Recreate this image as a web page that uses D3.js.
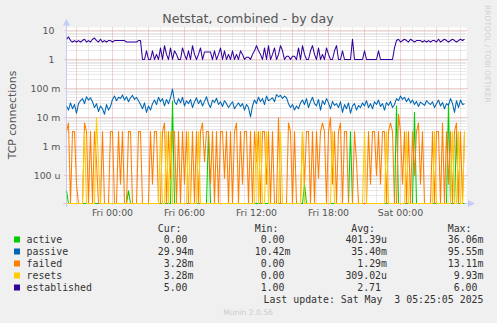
<!DOCTYPE html>
<html>
<head>
<meta charset="utf-8">
<script src="https://cdn.jsdelivr.net/npm/d3@7"></script>
<style>
  html, body { margin: 0; padding: 0; background: #f0f0f0; }
  svg { display: block; }
  text { white-space: pre; }
</style>
</head>
<body>
<svg id="chart" width="497" height="323"></svg>
<script>
// ---- series definitions (legend order = drawing order) ----
const seriesNames  = ["active", "passive", "failed", "resets", "established"];
const seriesColors = ["#00cc00", "#0066b3", "#ff8000", "#ffcc00", "#330099"];

// samples every 10 minutes, Thu 20:10 .. Sat 05:20 (UTC)
const sampleStart = Date.UTC(2025, 4, 1, 20, 10);
const sampleStepMinutes = 10;

// connections per second, in milli-units
const activeMilli = [
  0.03,0,0,0,0,0,0,0,0,0,
  0,0,0,0,0,0,0,0,0,0,
  0,0,0,0,0,0,0,0,0,0,
  0,0.03,0,0,0,0,0,0,0,0,
  0,0,0,0,0,0,0,0,0,0,
  0,0,0,36.06,0,0,0,0,0,0,
  0,0,0,0,0,0,0,0,0,0,
  0,3.28,0,0,0,0,0,0,0,0,
  0,0,0,0,0,0,0,0,0,0,
  0,0,0,0,0,0,0,0,0,0,
  0,0,0,0,0,0,0,0,0,0,
  0,0,0,0,0,0,0,0,0,0.05,
  0,0,0,0,0,0,0,0,0,0,
  0,0,0,0,0,0,0,0,0,0,
  0,0,3.28,0,0,0,0,0,0,0,
  0,0,0,0,0,0,0,0,0,0,
  0,0,0,0,0,25,0,0,0,0,
  0,0,0,0,15,0,0,0,0,0,
  0,0,0,0,0,0,0,0,0,0,
  0,30,0,0,0,3.28,0,0,0,0
];

const passiveMilli = [
  25,18,32,20,28,14,30,38,45,30,
  52,40,48,35,22,30,16,25,20,13,
  28,18,24,42,55,38,50,45,60,40,
  52,35,48,58,42,50,38,28,20,32,
  15,25,18,30,40,28,50,35,45,25,
  42,30,48,95.55,35,28,45,32,50,25,
  38,30,42,22,35,48,30,40,25,36,
  52,30,22,40,33,46,28,35,24,38,
  30,22,28,35,20,26,32,24,30,18,
  28,22,10.42,25,40,30,50,35,45,28,
  55,38,42,48,35,62,52,58,45,55,
  48,30,22,28,18,25,20,32,40,28,
  45,22,35,50,30,25,42,18,38,28,
  45,32,20,36,26,30,22,35,15,28,
  20,32,14,25,30,18,26,22,32,25,
  38,22,30,20,35,28,40,24,30,18,
  33,26,36,22,28,45,38,55,42,50,
  35,46,32,40,28,36,24,34,30,26,
  38,32,28,35,22,30,40,25,33,20,
  30,26,45,30,15,38,22,40,28,29.94
];

const failedMilli = [
  3.28,6.5,0,3.28,3.28,0.05,0,0,0,6.5,
  3.28,0,3.28,0,3.28,0.3,0,0,3.28,0,
  0,0,3.28,3.28,0,0,3.28,0.05,3.28,0,
  0,3.28,3.28,0,0,0,3.28,3.28,0,0,
  0,0,3.28,0.05,3.28,3.28,0,0,3.28,6.5,
  0,3.28,0.08,3.28,3.28,0,3.28,0,3.28,0.05,
  3.28,0,0,3.28,0,3.28,0,3.28,6.5,0.3,
  3.28,3.28,0.05,3.28,0,3.28,0,3.28,3.28,0.08,
  3.28,0,3.28,0,3.28,6.5,0,3.28,0.05,3.28,
  3.28,0,3.28,0,3.28,0.3,3.28,0,3.28,3.28,
  0.05,3.28,0,3.28,0,0,10,0,0,0,
  0,6.5,3.28,0,3.28,0,0,0,3.28,0.05,
  3.28,3.28,0,3.28,0,3.28,0.08,3.28,6.5,3.28,
  0,3.28,9.9,0.05,3.28,0,3.28,6.5,0,3.28,
  3.28,0,0,0,3.28,0.3,0,0,0,0,
  0,3.28,0.05,3.28,3.28,0.1,3.28,0.05,3.28,3.28,
  0,3.28,6.5,3.28,0,0,13.11,3.28,0.05,3.28,
  0,3.28,0,3.28,0.1,3.28,6.5,0.05,3.28,0,
  0,0,0,3.28,0,3.28,3.28,0,6.5,0,
  3.28,0.05,3.28,0,3.28,6.5,0,3.28,0,3.28
];

const resetsMilli = [
  0,0,0,0,0,0,0,0,0,3.28,
  0,0,0,0,0,9.93,0.3,0,0,0,
  0,0,0,0,0,0,0,0,0,0,
  0,0,0,0,0,0,0,0,0,0,
  0,0,0,0,0,0,0,3.28,0,0,
  3.28,0,3.28,0,0,0,0,0,0,0,
  0,3.28,0,0,0,0,3.28,0,0,0,
  0,0,0,0,0,0,0,0,0,0,
  0,0,0,0,0,0,0,0,0,0,
  0,0,0,0,0,3.28,0,3.28,0,0,
  3.28,0,0,0,0,0,0,3.28,0,0,
  0,0,0,0,0,0,0,0,3.28,0,
  0,0,0,0,0,0,0,0,0,0,
  0,0,0,3.28,0,0,0,0,0,0,
  0,0,0,0,0,0,0,0,0,3.28,
  0,0,0,0,0,0,0,0,0,0,
  3.28,0,0,0,0,0,0,0,0,0,
  3.28,0,0,0,0,0,0,0,0,0,
  0,0,0,0,3.28,0,0,0,0,0,
  0,0,0,3.28,0,0,3.28,0,0,3.28
];

// established connections (plain units)
const established = [
  5,6,4.5,4,4.5,4,4.5,4,4.5,5,
  4,4.5,4,5,5.5,4.5,4,5,4,4.5,
  4,4.5,4.5,4,4.5,4.5,4.5,4.5,4.5,4.5,
  4,4,4,4,4,4,4.5,4.5,1,1,
  2,1,1,2,1,1.5,1,2.5,1,3,
  1.5,1,2.5,1,2,1.5,1,1,2.5,1.5,
  1,2,1,3,1.5,1,1.5,2.5,1,1.8,
  1.8,1.8,1.8,1,2,1,1.5,2.5,1,2,
  1,1.5,1,2,1,1.5,1,2,1.5,1,
  1.2,1.2,1,1.5,2,3,2,1.5,1,2.5,
  1,3,1,1.5,2.5,1,1.5,3,2,1,
  1.3,1.3,1,1.3,1.3,1,2.5,1,3,1.5,
  1,1,2,3,1.5,1,2.5,1,1.5,1,
  2.5,1.5,1,1,2,3,1,1,2,1,
  1,1,1,5,1,1,1,1,1,2,
  1,1,1,1,1,1,2,1,1,1,
  1,1,1,1,2.5,4.5,5,4,4.5,5,
  4.5,4,5,4.5,4,4.5,4.5,4.5,4,4.5,
  4,4.5,4,4.5,4.5,4,5,4,4.5,5,
  4.5,4,4.5,5,4.5,4,4.5,5,4.5,5
];

// legend statistics
const curText = ["0.00", "29.94m", "3.28m", "3.28m", "5.00"];
const minText = ["0.00", "10.42m", "0.00", "0.00", "1.00"];
const avgText = ["401.39u", "35.40m", "1.29m", "309.02u", "2.71"];
const maxText = ["36.06m", "95.55m", "13.11m", "9.93m", "6.00"];

// y axis ticks
const yTickValues = [1e-4, 1e-3, 1e-2, 1e-1, 1, 10];
const yTickLabels = ["100 u", "1 m", "10 m", "100 m", "1", "10"];

const titleText = "Netstat, combined - by day";
const yTitle = "TCP connections";
const lastUpdate = "Last update: Sat May  3 05:25:05 2025";
const footer = "Munin 2.0.56";
const sideText = "RRDTOOL / TOBI OETIKER";

// ---- layout ----
const svg = d3.select("#chart");
const plot = { left: 66.5, right: 466.5, top: 27.5, bottom: 203.5 };
const sans = "'DejaVu Sans', sans-serif";
const mono = "'DejaVu Sans Mono', monospace";

const timeStart = new Date(Date.UTC(2025, 4, 1, 20, 10));
const timeEnd = new Date(Date.UTC(2025, 4, 3, 5, 30));
const x = d3.scaleUtc().domain([timeStart, timeEnd]).range([plot.left, plot.right]);
const y = d3.scaleLog().domain([1e-5, 10]).range([204.5, 30.5]);

const sampleTime = i => new Date(sampleStart + i * sampleStepMinutes * 60000);

svg.append("rect").attr("width", 497).attr("height", 323).attr("fill", "#f0f0f0");
svg.append("rect")
  .attr("x", plot.left).attr("y", plot.top)
  .attr("width", plot.right - plot.left).attr("height", plot.bottom - plot.top)
  .attr("fill", "#ffffff");

const crisp = v => Math.round(v - 0.5) + 0.5;
const grid = svg.append("g");

// horizontal minor grid (2..9 of each decade)
const minorY = [];
for (let e = -5; e <= 0; e++) {
  for (let k = 2; k <= 9; k++) minorY.push(k * Math.pow(10, e));
}
grid.selectAll(".hmin").data(minorY.filter(v => y(v) > plot.top && y(v) < plot.bottom))
  .join("line")
  .attr("x1", plot.left).attr("x2", plot.right)
  .attr("y1", d => crisp(y(d))).attr("y2", d => crisp(y(d)))
  .attr("stroke", "#d2d2d2").attr("stroke-width", 1).attr("stroke-dasharray", "1,1");

// vertical minor grid: every hour
const hours = d3.utcHour.every(1).range(timeStart, timeEnd);
grid.selectAll(".vmin").data(hours.filter(h => h.getUTCHours() % 3 !== 0))
  .join("line")
  .attr("x1", d => crisp(x(d))).attr("x2", d => crisp(x(d)))
  .attr("y1", plot.top).attr("y2", plot.bottom)
  .attr("stroke", "#d2d2d2").attr("stroke-width", 1).attr("stroke-dasharray", "1,1");

// major grid: decades and every 3 hours
grid.selectAll(".hmaj").data(yTickValues)
  .join("line")
  .attr("x1", plot.left - 2).attr("x2", plot.right + 2)
  .attr("y1", d => crisp(y(d))).attr("y2", d => crisp(y(d)))
  .attr("stroke", "#e8a4a4").attr("stroke-width", 1).attr("stroke-dasharray", "1,1");
grid.selectAll(".vmaj").data(hours.filter(h => h.getUTCHours() % 3 === 0))
  .join("line")
  .attr("x1", d => crisp(x(d))).attr("x2", d => crisp(x(d)))
  .attr("y1", plot.top).attr("y2", plot.bottom + 2)
  .attr("stroke", "#e8a4a4").attr("stroke-width", 1).attr("stroke-dasharray", "1,1");

// axes with arrows
const axisColor = "#c6cbf6";
svg.append("line").attr("x1", 63).attr("x2", 468).attr("y1", plot.bottom).attr("y2", plot.bottom)
  .attr("stroke", axisColor).attr("stroke-width", 1);
svg.append("line").attr("x1", plot.left).attr("x2", plot.left).attr("y1", 207).attr("y2", 25)
  .attr("stroke", axisColor).attr("stroke-width", 1);
svg.append("path").attr("d", "M468,200L468,207L475,203.5Z").attr("fill", axisColor);
svg.append("path").attr("d", "M63,25.5L70,25.5L66.5,19Z").attr("fill", axisColor);

// y tick labels
svg.append("g").selectAll("text").data(yTickValues)
  .join("text")
  .attr("x", (d, i) => yTickLabels[i].includes(" ") ? 60.5 : 54.5)
  .attr("y", d => y(d) + 3.3)
  .attr("text-anchor", "end")
  .attr("font-family", sans).attr("font-size", 9.4).attr("fill", "#555")
  .text((d, i) => yTickLabels[i]);

// x tick labels every 6 hours
const labelHours = d3.utcHour.every(6).range(timeStart, timeEnd);
svg.append("g").selectAll("text").data(labelHours)
  .join("text")
  .attr("x", d => x(d))
  .attr("y", 215.5)
  .attr("text-anchor", "middle")
  .attr("font-family", sans).attr("font-size", 9.4).attr("fill", "#555")
  .text(d => d3.utcFormat("%a %H:%M")(d));

// ---- data lines ----
svg.append("clipPath").attr("id", "plotClip")
  .append("rect").attr("x", plot.left).attr("y", plot.top)
  .attr("width", plot.right - plot.left + 1).attr("height", plot.bottom - plot.top + 1);

const floorValue = 1e-5;
const lineGen = scale => d3.line()
  .x((d, i) => x(sampleTime(i)))
  .y(d => {
    const v = d * scale;
    return v > floorValue ? Math.min(y(v), plot.bottom) : plot.bottom;
  });

const seriesData = [activeMilli, passiveMilli, failedMilli, resetsMilli, established];
const seriesScale = [1e-3, 1e-3, 1e-3, 1e-3, 1];

const lines = svg.append("g").attr("clip-path", "url(#plotClip)");
seriesData.forEach((data, k) => {
  lines.append("path")
    .attr("d", lineGen(seriesScale[k])(data))
    .attr("fill", "none")
    .attr("stroke", seriesColors[k])
    .attr("stroke-width", 1.05)
    .attr("stroke-linejoin", "round");
});

// ---- titles ----
svg.append("text").attr("x", 248).attr("y", 23)
  .attr("text-anchor", "middle").attr("font-family", sans).attr("font-size", 12.6)
  .attr("fill", "#555").text(titleText);

svg.append("text")
  .attr("transform", "translate(15.5,115) rotate(-90)")
  .attr("text-anchor", "middle").attr("font-family", sans).attr("font-size", 10.8)
  .attr("fill", "#555").text(yTitle);

svg.append("text")
  .attr("transform", "translate(485,5) rotate(90)")
  .attr("text-anchor", "start").attr("font-family", sans).attr("font-size", 7.6)
  .attr("fill", "#d0d0d0").text(sideText);

// ---- legend ----
const legendFont = 9.9;
const charW = 6.0;
const colRight = [193.5, 290.5, 387, 483.5];
const headers = ["Cur:", "Min:", "Avg:", "Max:"];
const legend = svg.append("g").attr("font-family", mono).attr("font-size", legendFont).attr("fill", "#333");

headers.forEach((h, c) => {
  legend.append("text").attr("x", colRight[c] - 2 * charW).attr("y", 232)
    .attr("text-anchor", "end").text(h);
});

const columns = [curText, minText, avgText, maxText];
seriesNames.forEach((name, r) => {
  const base = 243 + r * 12;
  legend.append("rect").attr("x", 14).attr("y", base - 6.5).attr("width", 6).attr("height", 6)
    .attr("fill", seriesColors[r]);
  legend.append("text").attr("x", 26.5).attr("y", base).text(name);
  columns.forEach((col, c) => {
    const s = col[r];
    const hasUnit = /[a-zA-Z]$/.test(s);
    legend.append("text")
      .attr("x", colRight[c] - (hasUnit ? 0 : charW)).attr("y", base)
      .attr("text-anchor", "end").text(s);
  });
});

legend.append("text").attr("x", 483.5).attr("y", 303)
  .attr("text-anchor", "end").attr("xml:space", "preserve").text(lastUpdate);

svg.append("text").attr("x", 248).attr("y", 315)
  .attr("text-anchor", "middle").attr("font-family", sans).attr("font-size", 7.6)
  .attr("fill", "#cccccc").text(footer);
</script>
</body>
</html>
